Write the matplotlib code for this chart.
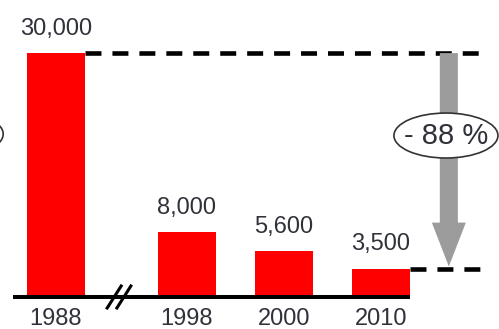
import matplotlib
matplotlib.use('Agg')
import matplotlib.pyplot as plt
from matplotlib.patches import Ellipse, FancyArrow

# values for the bar chart
years = ['1988', '1998', '2000', '2010']
values = [30000, 8000, 5600, 3500]
positions = [0, 1.35, 2.35, 3.35]

plt.rcParams['font.family'] = ['Liberation Sans', 'DejaVu Sans']
plt.rcParams['lines.scale_dashes'] = False

text_color = '#30323a'
bar_w = 0.6

fig = plt.figure(figsize=(4.99, 3.29), dpi=100)
ax = fig.add_axes([0, 0, 1, 1])
ax.set_xlim(-0.577, 4.567)
ax.set_ylim(-3936, 36530)
ax.axis('off')

ax.bar(positions, values, width=bar_w, color='#ff0000', zorder=2)

# baseline with break marks between 1988 and 1998
ax.plot([-0.443, positions[-1] + bar_w / 2], [0, 0], color='black', lw=2.9,
        solid_capstyle='butt', zorder=3)
for cx in [0.60, 0.70]:
    ax.plot([cx - 0.072, cx + 0.072], [-1350, 1350], color='black', lw=2.2, zorder=4)

# value labels and year labels
for x, v, yr in zip(positions, values, years):
    ax.annotate(f'{v:,}', (x, v), xytext=(0, 13), textcoords='offset points',
                ha='center', va='baseline', fontsize=17, color=text_color)
    ax.annotate(yr, (x, 0), xytext=(0, -20), textcoords='offset points',
                ha='center', va='baseline', fontsize=17, color=text_color)

# dashed reference lines at first and last value
x_end = 4.37
dash = (0, (11.5, 7.9))
ax.plot([positions[0] + bar_w / 2, x_end], [values[0], values[0]], color='black',
        lw=3.3, linestyle=dash, zorder=3)
ax.plot([positions[-1] + bar_w / 2, x_end], [values[-1], values[-1]], color='black',
        lw=3.3, linestyle=dash, zorder=3)

# grey arrow showing the drop
ax_x = 4.05
arrow = FancyArrow(ax_x, values[0], 0, values[-1] + 250 - values[0], width=0.186,
                   head_width=0.35, head_length=5400, length_includes_head=True,
                   color='#9c9c9c', lw=0, zorder=4)
ax.add_patch(arrow)

pct = round((1 - values[-1] / values[0]) * 100)
ell = Ellipse((4.02, 19860), 1.072, 5533, facecolor='white', edgecolor='#333333',
              lw=1.2, zorder=5)
ax.add_patch(ell)
ax.text(4.02, 19860, f'- {pct} %', ha='center', va='center', fontsize=21,
        color=text_color, zorder=6)

# partial ellipse on the left edge
ax.add_patch(Ellipse((-1.08, 20040), 1.072, 5533, facecolor='white',
                     edgecolor='#333333', lw=1.2, zorder=5))

fig.savefig('out.png', dpi=100)
